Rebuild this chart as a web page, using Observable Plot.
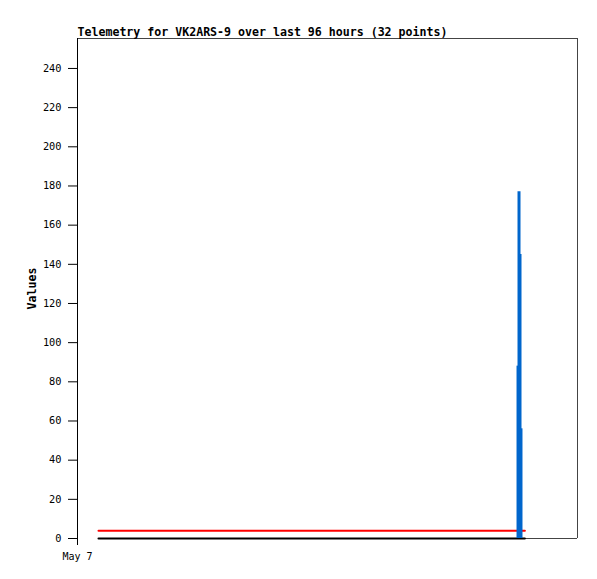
<!DOCTYPE html>
<html>
<head>
<meta charset="utf-8">
<script src="https://cdn.jsdelivr.net/npm/d3@7"></script>
<script src="https://cdn.jsdelivr.net/npm/@observablehq/plot@0.6"></script>
<style>
  html, body { margin: 0; padding: 0; background: #fff; }
</style>
</head>
<body>
<div id="chart"></div>
<script>
// ---- data (hours since start of the 96-hour window, values) ----
const titleText = "Telemetry for VK2ARS-9 over last 96 hours (32 points)";
const yLabel = "Values";
const windowHours = 96;
const yTicks = [0, 20, 40, 60, 80, 100, 120, 140, 160, 180, 200, 220, 240];
const xTickLabel = "May 7";

const lineHours = [4.03, 85.9];
const redValues = [4, 4];
const blackValues = [0, 0];

const blueHours = [84.58, 84.77, 84.96, 85.15];
const blueValues = [88, 177, 145, 56];

// ---- build ----
const start = new Date(Date.UTC(2024, 4, 7, 0, 0));
const t = h => new Date(start.getTime() + h * 3600e3);
const end = t(windowHours);

const red = lineHours.map((h, i) => ({time: t(h), value: redValues[i]}));
const black = lineHours.map((h, i) => ({time: t(h), value: blackValues[i]}));
const blue = blueHours.map((h, i) => ({time: t(h), value: blueValues[i]}));

const mono = "'DejaVu Sans Mono', 'Liberation Mono', monospace";

const chart = Plot.plot({
  width: 597,
  height: 579,
  marginLeft: 77,
  marginRight: 20,
  marginTop: 38,
  marginBottom: 41,
  style: {fontFamily: mono, fontSize: "10px", background: "#fff", color: "#000"},
  x: {type: "utc", domain: [start, end]},
  y: {domain: [0, 255.3]},
  marks: [
    // frame
    Plot.ruleY([255.3], {stroke: "#444"}),
    Plot.ruleX([end], {stroke: "#444"}),
    Plot.ruleY([0], {x1: () => t(lineHours[0]), x2: () => end, stroke: "#444"}),
    // series
    Plot.line(black, {x: "time", y: "value", stroke: "#000", strokeWidth: 2}),
    Plot.line(red, {x: "time", y: "value", stroke: "#ff0000", strokeWidth: 2}),
    Plot.ruleX(blue, {x: "time", y1: 0, y2: "value", stroke: "#0066cc", strokeWidth: 3}),
    // axes
    Plot.ruleX([start], {stroke: "#000"}),
    Plot.axisY({ticks: yTicks, tickSize: 9, tickPadding: 7, label: null, fontSize: 10.3}),
    Plot.axisX({ticks: [start], tickFormat: () => xTickLabel, tickSize: 7, tickPadding: 7, label: null, fontSize: 10}),
    Plot.text([titleText], {frameAnchor: "top-left", textAnchor: "start", lineAnchor: "bottom", dy: -3, fontSize: 11.6, fontWeight: "bold"}),
    Plot.text([yLabel], {frameAnchor: "left", rotate: -90, dx: -45, textAnchor: "middle", lineAnchor: "middle", fontSize: 11.6, fontWeight: "bold"})
  ]
});
document.getElementById("chart").append(chart);
</script>
</body>
</html>
